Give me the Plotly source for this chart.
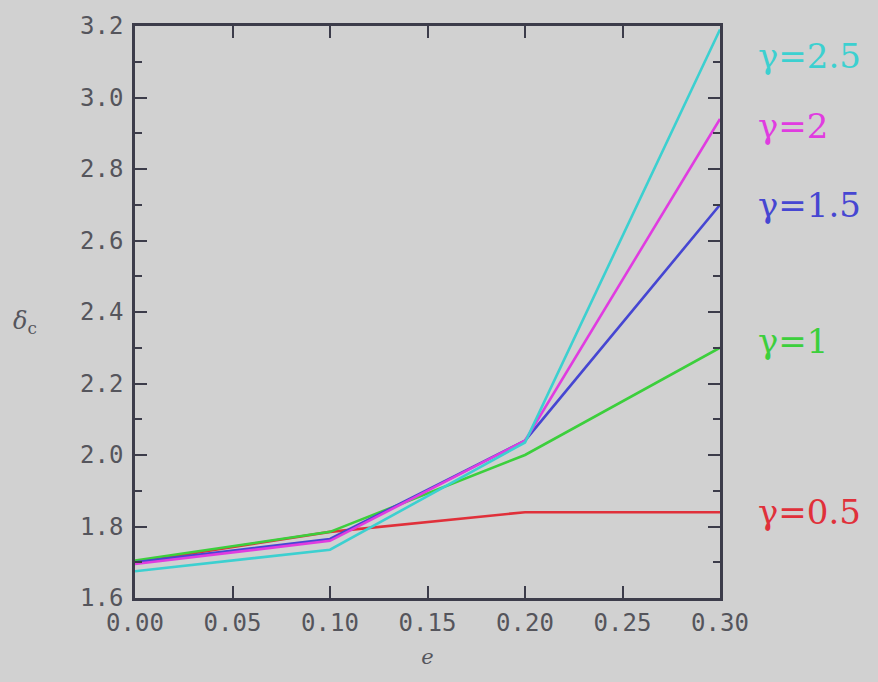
import plotly.graph_objects as go

# eccentricity values
e_vals = [0.0, 0.1, 0.2, 0.3]

# critical delta for each gamma
gammas = ["0.5", "1", "1.5", "2", "2.5"]
delta_g05 = [1.700, 1.785, 1.840, 1.840]
delta_g10 = [1.705, 1.785, 2.000, 2.300]
delta_g15 = [1.700, 1.765, 2.040, 2.700]
delta_g20 = [1.695, 1.760, 2.040, 2.940]
delta_g25 = [1.675, 1.735, 2.035, 3.190]

series = [delta_g05, delta_g10, delta_g15, delta_g20, delta_g25]
colors = ["#e0303a", "#3ccf3c", "#4646d2", "#e03ce0", "#3cd0d0"]
# vertical placement of the right-hand labels (data units)
label_y = [1.84, 2.32, 2.70, 2.92, 3.115]

x_ticks = [0.0, 0.05, 0.10, 0.15, 0.20, 0.25, 0.30]
x_ticktext = ["0.00", "0.05", "0.10", "0.15", "0.20", "0.25", "0.30"]
y_ticks = [1.6, 1.8, 2.0, 2.2, 2.4, 2.6, 2.8, 3.0, 3.2]
y_ticktext = ["1.6", "1.8", "2.0", "2.2", "2.4", "2.6", "2.8", "3.0", "3.2"]

bg = "#d1d1d1"
axis_col = "#3c3c4a"
text_col = "#55555c"
tick_font = dict(family="DejaVu Sans Mono", size=24, color=text_col)

fig = go.Figure()
for g, ys, c in zip(gammas, series, colors):
    fig.add_trace(go.Scatter(x=e_vals, y=ys, mode="lines", name=f"γ={g}",
                             line=dict(color=c, width=2.6), showlegend=False))

for g, yl, c in zip(gammas, label_y, colors):
    fig.add_annotation(x=0.3, y=yl, xref="x", yref="y", text=f"γ={g}",
                       showarrow=False, xanchor="left", yanchor="middle",
                       xshift=36,
                       font=dict(family="DejaVu Serif", size=34, color=c))

fig.add_annotation(x=0, y=2.37, xref="paper", yref="y", text="<i>δ</i><sub>c</sub>",
                   showarrow=False, xanchor="right", yanchor="middle", xshift=-96,
                   font=dict(family="DejaVu Serif", size=24, color=text_col))

fig.update_layout(
    width=878, height=682,
    margin=dict(l=135, r=158, t=23, b=84),
    paper_bgcolor=bg, plot_bgcolor=bg,
    xaxis=dict(range=[0, 0.3], tickvals=x_ticks, ticktext=x_ticktext,
               ticks="inside", ticklen=12, tickwidth=2, tickcolor=axis_col,
               showline=True, linecolor=axis_col, linewidth=2.5, mirror="ticks",
               showgrid=False, zeroline=False, tickfont=tick_font,
               ticklabelstandoff=1,
               title=dict(text="<i>e</i>", font=dict(family="DejaVu Serif", size=21,
                                                     color=text_col), standoff=14)),
    yaxis=dict(range=[1.6, 3.2], tickvals=y_ticks, ticktext=y_ticktext,
               ticks="inside", ticklen=12, tickwidth=2, tickcolor=axis_col,
               showline=True, linecolor=axis_col, linewidth=2.5, mirror="ticks",
               showgrid=False, zeroline=False, tickfont=tick_font,
               ticklabelstandoff=4,
               minor=dict(dtick=0.1, tick0=1.6, ticks="inside", ticklen=7,
                          tickwidth=2, tickcolor=axis_col, showgrid=False)),
)

fig.write_html("out.html")
